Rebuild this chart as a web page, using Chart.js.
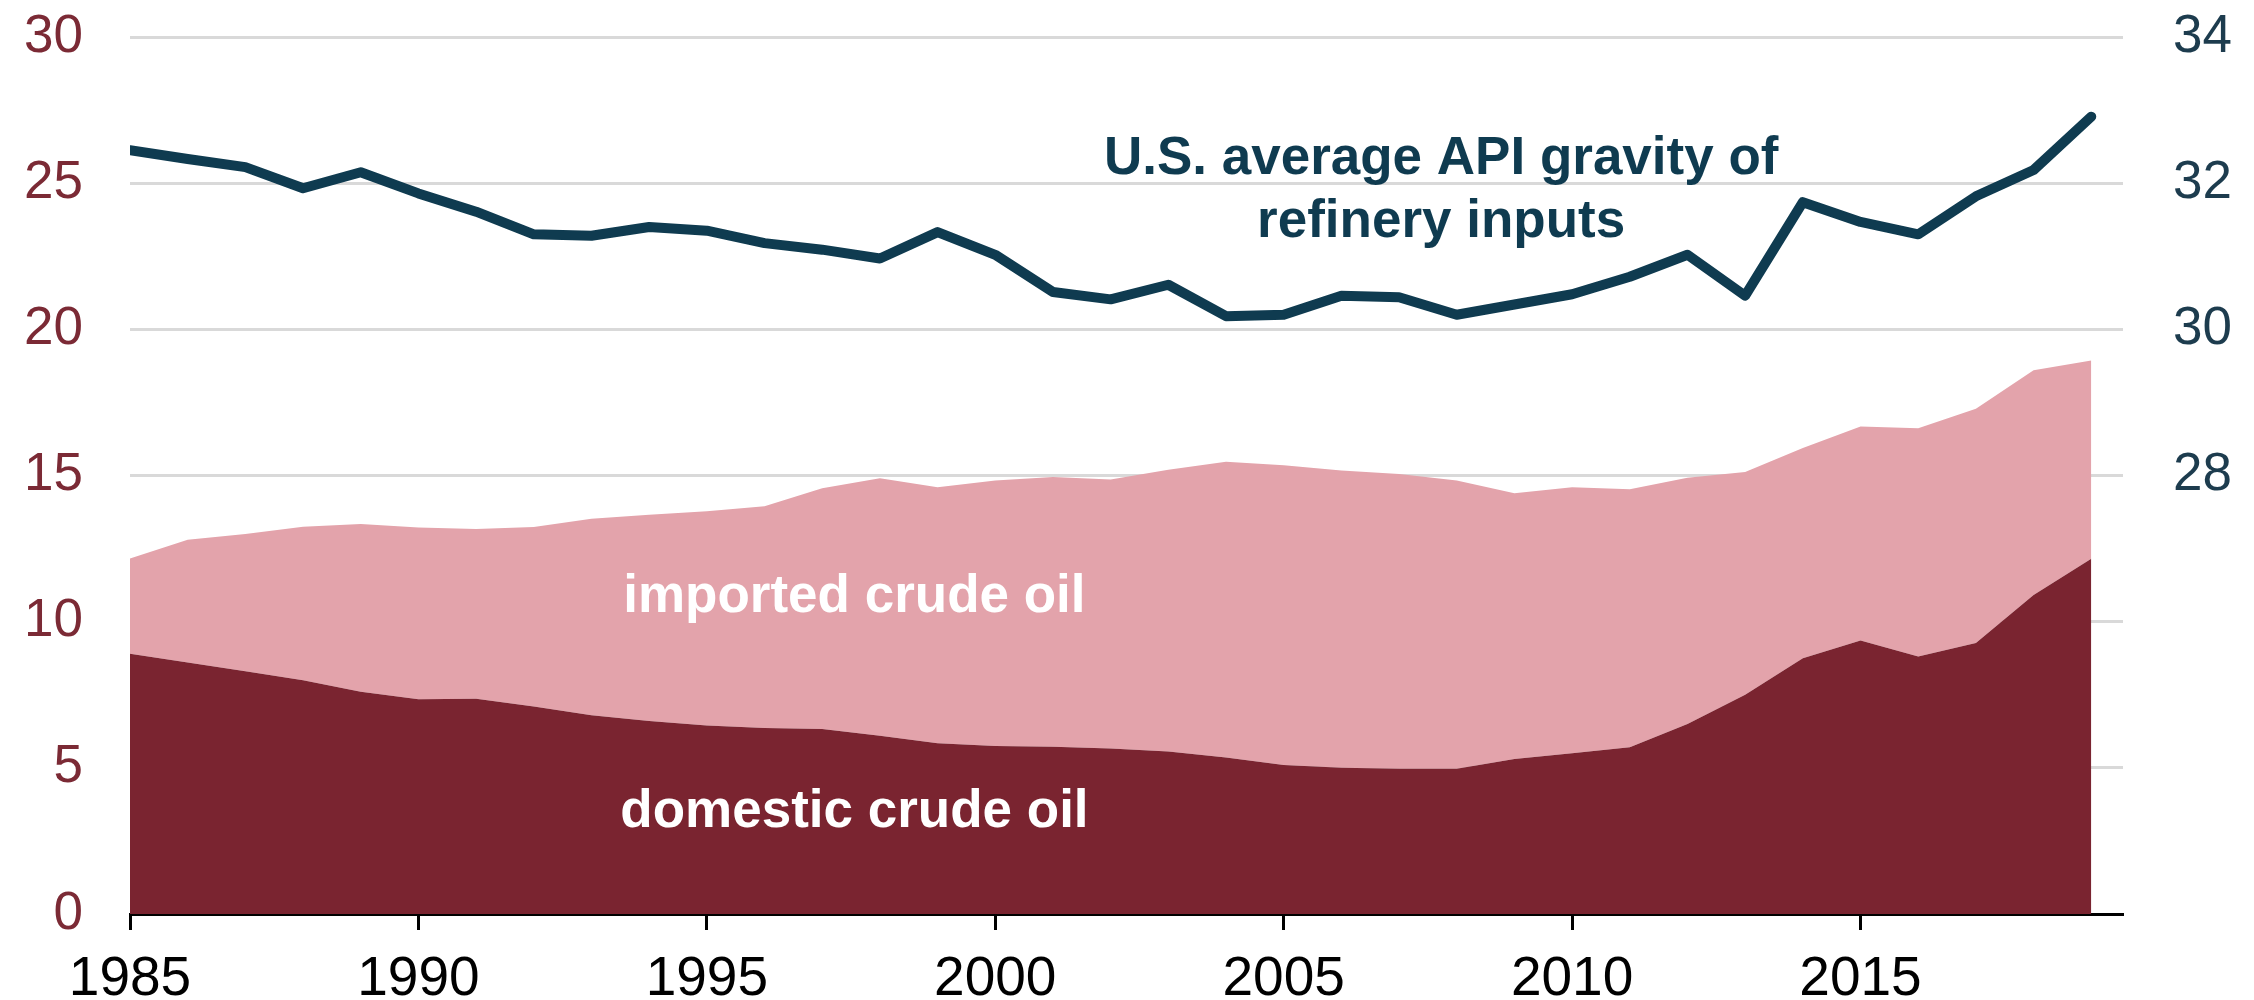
<!DOCTYPE html>
<html>
<head>
<meta charset="utf-8">
<script src="https://cdn.jsdelivr.net/npm/chart.js@4"></script>
<style>
  html, body { margin: 0; padding: 0; background: #fff; }
  #wrap { width: 2254px; height: 1000px; }
</style>
</head>
<body>
<div id="wrap"><canvas id="chartRefinery" width="2254" height="1000"></canvas></div>
<script>
// years on the x axis
const years = [1985, 1986, 1987, 1988, 1989, 1990, 1991, 1992, 1993, 1994,
               1995, 1996, 1997, 1998, 1999, 2000, 2001, 2002, 2003, 2004,
               2005, 2006, 2007, 2008, 2009, 2010, 2011, 2012, 2013, 2014,
               2015, 2016, 2017, 2018, 2019];

// million barrels per day, domestic crude oil (bottom area)
const domesticCrude = [8.9, 8.6, 8.3, 8.0, 7.6, 7.35, 7.36, 7.1, 6.8, 6.6,
                       6.45, 6.36, 6.33, 6.1, 5.84, 5.75, 5.72, 5.66, 5.56, 5.35,
                       5.1, 5.0, 4.97, 4.97, 5.3, 5.5, 5.7, 6.5, 7.5, 8.75,
                       9.36, 8.81, 9.27, 10.91, 12.15];

// top of the imported crude area (domestic + imported)
const totalCrude = [12.16, 12.8, 13.0, 13.25, 13.34, 13.22, 13.17, 13.24, 13.52, 13.66,
                    13.78, 13.95, 14.56, 14.91, 14.6, 14.83, 14.95, 14.86, 15.2, 15.47,
                    15.35, 15.17, 15.05, 14.83, 14.39, 14.6, 14.53, 14.92, 15.12, 15.94,
                    16.68, 16.62, 17.28, 18.6, 18.93];

// API gravity, right axis
const apiGravity = [32.45, 32.33, 32.22, 31.93, 32.15, 31.86, 31.61, 31.30, 31.28, 31.40,
                    31.35, 31.18, 31.09, 30.97, 31.33, 31.02, 30.51, 30.41, 30.61, 30.18,
                    30.2, 30.46, 30.44, 30.2, 30.34, 30.48, 30.72, 31.02, 30.46, 31.74,
                    31.47, 31.30, 31.82, 32.18, 32.91];

const xTickYears = [1985, 1990, 1995, 2000, 2005, 2010, 2015];
const leftTicks = [0, 5, 10, 15, 20, 25, 30];
const rightTicks = [22, 24, 26, 28, 30, 32, 34];
const rightLabelled = [28, 30, 32, 34];

const maroon = '#7a2430';
const pink = '#e3a3ab';
const navy = '#0f3b50';
const fontFamily = "'Liberation Sans', Arial, sans-serif";

function pts(vals) {
    return years.map((yr, i) => ({ x: yr, y: vals[i] }));
}

// no extra label padding, the layout padding sets the plot box
function noPad(scale) {
    scale.paddingTop = 0;
    scale.paddingBottom = 0;
}

// text labels placed through the scales
const labelPlugin = {
    id: 'labels',
    afterDatasetsDraw(chart) {
        const ctx = chart.ctx;
        const x = chart.scales.x;
        const y = chart.scales.y;
        ctx.save();
        ctx.font = "bold 53px " + fontFamily;
        ctx.textBaseline = 'alphabetic';

        ctx.fillStyle = '#ffffff';
        ctx.textAlign = 'left';
        ctx.fillText('imported crude oil', x.getPixelForValue(1993.55), y.getPixelForValue(10.33));
        ctx.fillText('domestic crude oil', x.getPixelForValue(1993.5), y.getPixelForValue(2.99));

        ctx.fillStyle = navy;
        ctx.textAlign = 'center';
        ctx.fillText('U.S. average API gravity of', x.getPixelForValue(2007.73), y.getPixelForValue(25.33));
        ctx.fillText('refinery inputs', x.getPixelForValue(2007.73), y.getPixelForValue(23.16));
        ctx.restore();
    }
};

let contextRefinery = document.querySelector('#chartRefinery').getContext('2d');

let config = {
    type: 'line',
    data: {
        datasets: [{
            label: 'domestic crude oil',
            data: pts(domesticCrude),
            yAxisID: 'y',
            borderWidth: 0,
            backgroundColor: maroon,
            fill: 'origin',
            pointRadius: 0,
            tension: 0
        }, {
            label: 'imported crude oil',
            data: pts(totalCrude),
            yAxisID: 'y',
            borderWidth: 0,
            backgroundColor: pink,
            fill: '-1',
            pointRadius: 0,
            tension: 0
        }, {
            label: 'U.S. average API gravity of refinery inputs',
            data: pts(apiGravity),
            yAxisID: 'y2',
            borderColor: navy,
            borderWidth: 10,
            borderJoinStyle: 'round',
            borderCapStyle: 'round',
            fill: false,
            pointRadius: 0,
            tension: 0
        }]
    },
    options: {
        responsive: false,
        animation: false,
        devicePixelRatio: 1,
        layout: { padding: { top: 37, left: 0, right: 0, bottom: 0 } },
        plugins: {
            legend: { display: false },
            tooltip: { enabled: false }
        },
        scales: {
            x: {
                type: 'linear',
                min: 1985,
                max: 2019.55,
                afterBuildTicks: (scale) => { scale.ticks = xTickYears.map(v => ({ value: v })); },
                afterFit: (scale) => { scale.height = 86; },
                grid: {
                    display: true,
                    drawOnChartArea: false,
                    drawTicks: true,
                    tickLength: 16,
                    tickColor: '#000',
                    tickWidth: 3
                },
                border: { display: true, color: '#000', width: 3 },
                ticks: {
                    color: '#000',
                    font: { family: fontFamily, size: 55 },
                    padding: 17,
                    maxRotation: 0,
                    autoSkip: false,
                    callback: (v) => String(v)
                }
            },
            y: {
                position: 'left',
                min: 0,
                max: 30,
                afterBuildTicks: (scale) => { scale.ticks = leftTicks.map(v => ({ value: v })); },
                afterFit: (scale) => { scale.width = 130; noPad(scale); },
                grid: {
                    color: '#d9d9d9',
                    lineWidth: 3,
                    drawTicks: false
                },
                border: { display: false },
                ticks: {
                    color: '#7b2a35',
                    font: { family: fontFamily, size: 53 },
                    padding: 47,
                    callback: (v) => String(v)
                }
            },
            y2: {
                position: 'right',
                min: 22,
                max: 34,
                afterBuildTicks: (scale) => { scale.ticks = rightTicks.map(v => ({ value: v })); },
                afterFit: (scale) => { scale.width = 131; noPad(scale); },
                grid: { drawOnChartArea: false, drawTicks: false },
                border: { display: false },
                ticks: {
                    color: '#1d3c4e',
                    font: { family: fontFamily, size: 53 },
                    padding: 50,
                    callback: (v) => rightLabelled.includes(v) ? String(v) : ''
                }
            }
        }
    },
    plugins: [labelPlugin]
};

let chartRefinery = new Chart(contextRefinery, config);
</script>
</body>
</html>
